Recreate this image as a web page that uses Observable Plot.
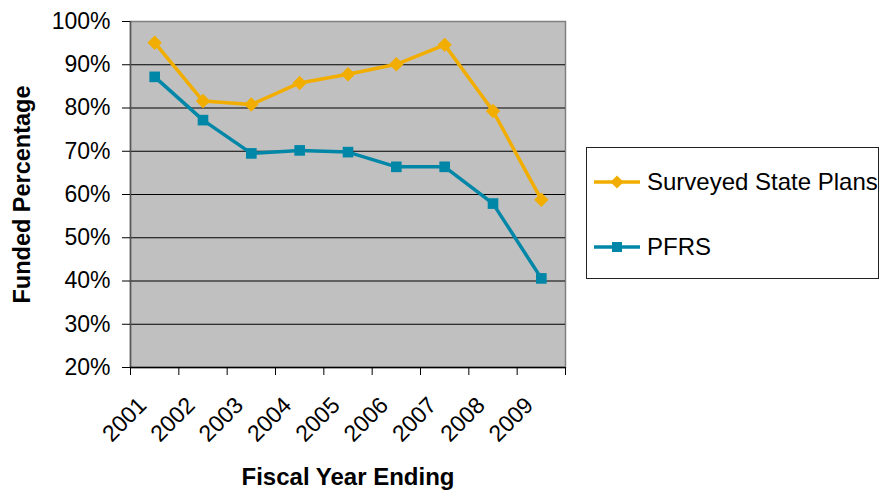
<!DOCTYPE html>
<html>
<head>
<meta charset="utf-8">
<script src="https://cdn.jsdelivr.net/npm/d3@7"></script>
<script src="https://cdn.jsdelivr.net/npm/@observablehq/plot@0.6"></script>
<style>
  body { margin: 0; background: #fff; font-family: "Liberation Sans", Arial, sans-serif; }
  #wrap { position: relative; width: 880px; height: 490px; }
  #legend {
    position: absolute; left: 586px; top: 147px; width: 293px; height: 132px;
    border: 1px solid #222; box-sizing: border-box; background: #fff;
  }
  .item { position: absolute; left: 6px; display: flex; align-items: center; font-size: 24px; color: #000; white-space: nowrap; }
  .item svg { margin-right: 6px; flex: none; }
</style>
</head>
<body>
<div id="wrap"></div>
<script>
// Fiscal years and funded ratios (percent)
const years = [2001, 2002, 2003, 2004, 2005, 2006, 2007, 2008, 2009];
const surveyed = [95.1, 81.6, 80.8, 85.8, 87.8, 90.1, 94.6, 79.3, 58.8];
const pfrs = [87.2, 77.2, 69.5, 70.2, 69.8, 66.4, 66.4, 57.9, 40.6];
const seriesNames = ["Surveyed State Plans", "PFRS"];
const seriesColors = ["#F2AE00", "#0087A8"];
const yTicks = [20, 30, 40, 50, 60, 70, 80, 90, 100];

const rows = [
  ...years.map((y, i) => ({ year: y, value: surveyed[i], series: seriesNames[0] })),
  ...years.map((y, i) => ({ year: y, value: pfrs[i], series: seriesNames[1] }))
];
// category boundaries for the bottom tick marks
const bounds = [...years.map(y => y - 0.5), years[years.length - 1] + 0.5];

const chart = Plot.plot({
  width: 880,
  height: 490,
  marginLeft: 130,
  marginRight: 315,
  marginTop: 21,
  marginBottom: 123,
  style: { fontFamily: "'Liberation Sans', Arial, sans-serif", color: "#000", background: "transparent" },
  x: { domain: [years[0] - 0.5, years[years.length - 1] + 0.5] },
  y: { domain: [20, 100] },
  color: { domain: seriesNames, range: seriesColors },
  marks: [
    Plot.frame({ fill: "#C0C0C0", stroke: "#808080", strokeWidth: 1.5 }),
    Plot.ruleY(yTicks.slice(1, -1), { stroke: "#000", strokeWidth: 1 }),
    Plot.ruleX([bounds[0]], { stroke: "#555", strokeWidth: 1.5 }),
    Plot.ruleY([20], { stroke: "#000", strokeWidth: 1.5 }),
    Plot.axisY(yTicks, {
      tickSize: 8, tickPadding: 12, fontSize: 23, tickFormat: d => d + "%", label: null, stroke: "#000"
    }),
    Plot.axisX(bounds, { tickSize: 8, tickFormat: () => "", label: null, stroke: "#000" }),
    Plot.axisX(years, {
      tickSize: 0, tickRotate: -45, tickPadding: 34, dx: -12, fontSize: 23,
      tickFormat: d => String(d), label: null
    }),
    Plot.lineY(rows, { x: "year", y: "value", stroke: "series", strokeWidth: 3.5 }),
    Plot.dot(rows.filter(d => d.series === seriesNames[0]), {
      x: "year", y: "value", fill: seriesColors[0], symbol: "diamond2", r: 6.5
    }),
    Plot.dot(rows.filter(d => d.series === seriesNames[1]), {
      x: "year", y: "value", fill: seriesColors[1], symbol: "square", r: 6
    }),
    Plot.text(["Funded Percentage"], {
      text: d => d, frameAnchor: "left", textAnchor: "middle", dx: -108, rotate: -90,
      fontSize: 23.5, fontWeight: "bold"
    }),
    Plot.text(["Fiscal Year Ending"], {
      text: d => d, frameAnchor: "bottom", dy: 117, fontSize: 24, fontWeight: "bold"
    })
  ]
});

const wrap = document.getElementById("wrap");
wrap.appendChild(chart);

// Legend box to the right of the plot
const legend = document.createElement("div");
legend.id = "legend";
const symbols = [d3.symbolDiamond2, d3.symbolSquare];
const symbolSizes = [110, 100];
const tops = [20, 85];
seriesNames.forEach((name, i) => {
  const item = document.createElement("div");
  item.className = "item";
  item.style.top = tops[i] + "px";
  const sw = d3.create("svg").attr("width", 48).attr("height", 28);
  sw.append("line").attr("x1", 1).attr("x2", 47).attr("y1", 14).attr("y2", 14)
    .attr("stroke", seriesColors[i]).attr("stroke-width", 3.5);
  sw.append("path").attr("transform", "translate(24,14)")
    .attr("d", d3.symbol(symbols[i], symbolSizes[i])())
    .attr("fill", seriesColors[i]);
  item.appendChild(sw.node());
  const label = document.createElement("span");
  label.textContent = name;
  item.appendChild(label);
  legend.appendChild(item);
});
wrap.appendChild(legend);
</script>
</body>
</html>
